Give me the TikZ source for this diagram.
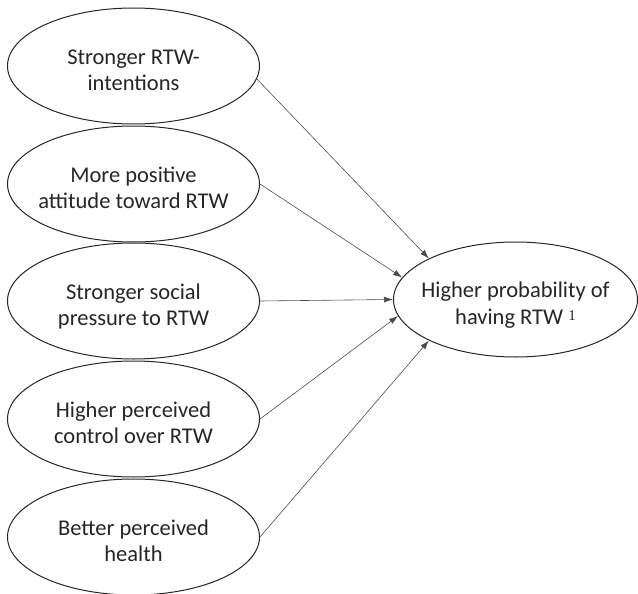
\documentclass[tikz,border=0pt]{standalone}
\usepackage{fontspec}
\setmainfont{Carlito}
\newfontfamily\supfont{Liberation Serif}
\usetikzlibrary{arrows.meta,shapes.geometric}
\begin{document}
\begin{tikzpicture}[x=1pt,y=-1pt,
  ell/.style={draw=black!85, line width=1pt, ellipse, minimum width=252pt, minimum height=116pt, inner sep=0pt},
  tgt/.style={draw=black!85, line width=1pt, ellipse, minimum width=244pt, minimum height=115pt, inner sep=0pt},
  lbl/.style={align=center, text=black!85, font=\fontsize{22.5}{26.5}\selectfont, inner sep=0pt, yshift=-6pt},
  arr/.style={draw=black!70, line width=0.6pt, -{Latex[length=9pt,width=6pt]}}]
\useasboundingbox (0,0) rectangle (638,594);
\node[ell] (a1) at (133.5,66) {};
\node[ell] (a2) at (133.5,184) {};
\node[ell] (a3) at (133.5,301) {};
\node[ell] (a4) at (133.5,419) {};
\node[ell] (a5) at (133.5,537) {};
\node[tgt] (t) at (515.5,299.5) {};
\node[lbl] (l1) at (a1) {\strut Stronger RTW-\\intentions\strut};
\node[lbl] (l2) at (a2) {\strut More positive\\attitude toward RTW\strut};
\node[lbl] (l3) at (a3) {\strut Stronger social\\pressure to RTW\strut};
\node[lbl] (l4) at (a4) {\strut Higher perceived\\control over RTW\strut};
\node[lbl] (l5) at (a5) {\strut Better perceived\\health\strut};
\node[lbl] (lt) at (t) {\strut Higher probability of\\having RTW~\raisebox{4pt}{\supfont\fontsize{15}{15}\selectfont 1}\strut};
\draw[arr] (a1.-6) -- (t.north west);
\draw[arr] (a2.east) -- (t.169);
\draw[arr] (a3.east) -- (t.west);
\draw[arr] (a4.east) -- (t.188);
\draw[arr] (a5.east) -- (t.south west);
\end{tikzpicture}
\end{document}
